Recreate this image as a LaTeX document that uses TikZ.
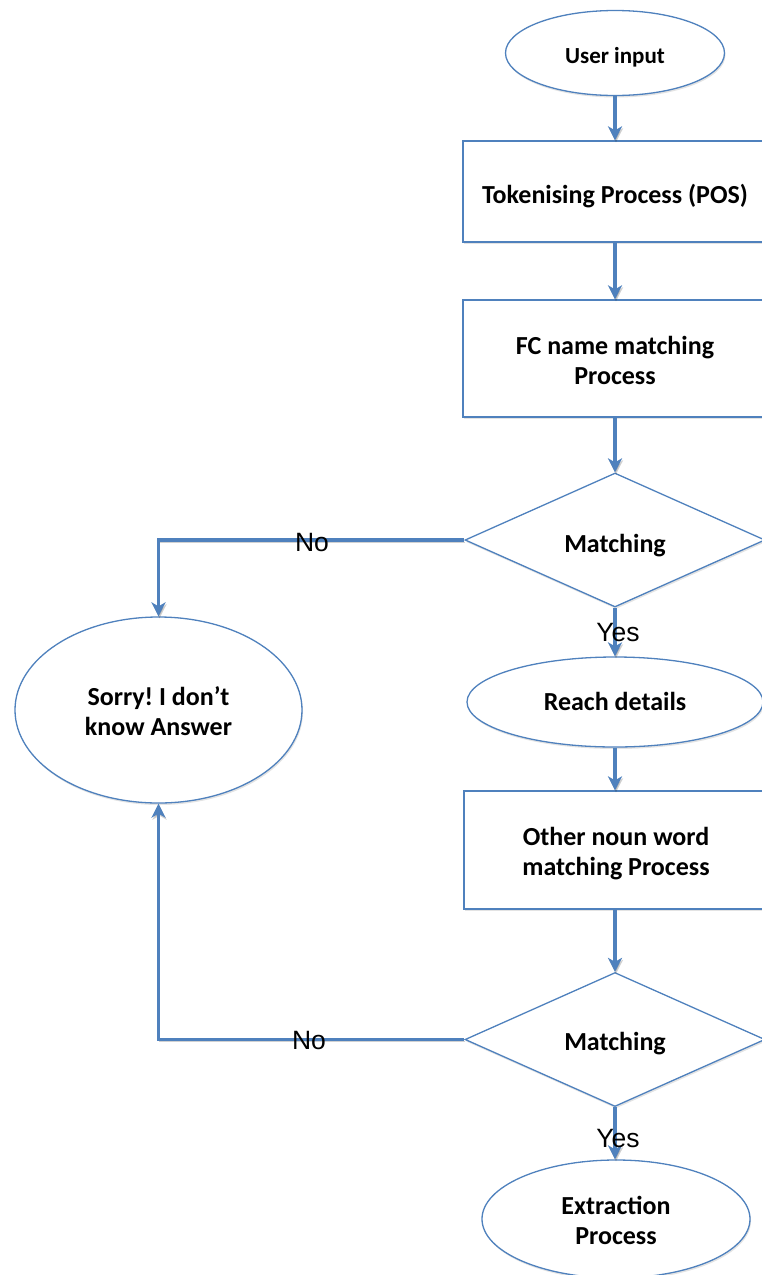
\documentclass[tikz,border=0pt]{standalone}
\usepackage{fontspec}
\setmainfont{Carlito}
\newfontfamily\labelfont{Liberation Sans}
\usetikzlibrary{shapes.geometric,arrows.meta,shadows}
\definecolor{flowblue}{RGB}{79,129,189}
\frenchspacing
% one line of text, baseline set below the shape centre
\newcommand\oneline[2][11.5pt]{\raisebox{-#1}[0pt][0pt]{#2}}
% two centred lines, 30pt apart
\newcommand\twolines[2]{\raisebox{4.5pt}[0pt][0pt]{\begin{tabular}[t]{@{}c@{}}#1\\#2\end{tabular}}}
\begin{document}
\begin{tikzpicture}[x=1pt,y=-1pt,
  every node/.style={align=center, text=black, inner sep=0pt,
    font=\fontsize{26}{30}\selectfont\bfseries},
  shape base/.style={draw=flowblue, line width=1.3pt, fill=white,
    drop shadow={opacity=0.22, shadow xshift=1pt, shadow yshift=-2pt}},
  procbox/.style={shape base, rectangle, minimum width=304pt},
  terminal/.style={shape base, ellipse},
  decision/.style={shape base, diamond, minimum width=300pt, minimum height=134pt},
  conn/.style={draw=flowblue, line width=3.6pt,
    -{Stealth[length=14pt, width=14pt, inset=4pt]},
    preaction={draw=black, opacity=0.18,
      transform canvas={shift={(1pt,-2pt)}}}},
  lbl/.style={font=\fontsize{26.5}{30}\selectfont\labelfont}
]
\useasboundingbox (0,0) rectangle (762,1275);
\clip (0,0) rectangle (762,1275);

% main column
\node[terminal, minimum width=219pt, minimum height=85pt,
  font=\fontsize{23}{30}\selectfont\bfseries] (user) at (615,53) {\oneline[10.5pt]{User input}};
\node[procbox, minimum height=101pt] (tok) at (615,191.5) {\oneline{Tokenising Process (POS)}};
\node[procbox, minimum height=117pt] (fc) at (615,358.5) {\twolines{FC name matching}{Process}};
\node[decision] (d1) at (615,540) {\oneline[12pt]{Matching}};
\node[terminal, minimum width=296pt, minimum height=90pt] (reach) at (615,702) {\oneline[8pt]{Reach details}};
\node[procbox, minimum height=118pt] (noun) at (616,850) {\twolines{Other noun word}{matching Process}};
\node[decision] (d2) at (615,1039.5) {\oneline[10.5pt]{Matching}};
\node[terminal, minimum width=268pt, minimum height=118pt] (extract) at (616,1219) {\twolines{Extraction}{Process}};

% failure outcome
\node[terminal, minimum width=287pt, minimum height=186pt] (sorry) at (158.5,710) {\twolines{Sorry! I don’t}{know Answer}};

% connectors
\draw[conn] (user.south) -- (tok.north);
\draw[conn] (tok.south) -- (fc.north);
\draw[conn] (fc.south) -- (d1.north);
\draw[conn] (d1.south) -- (reach.north);
\draw[conn] (reach.south) -- (reach.south |- noun.north);
\draw[conn] (noun.south -| d2.north) -- (d2.north);
\draw[conn] (d2.south) -- (d2.south |- extract.north);
\draw[conn] (d1.west) -| (sorry.north);
\draw[conn] (d2.west) -| (sorry.south);

% branch labels
\node[lbl] (no1) at (312,543) {No};
\node[lbl] (no2) at (309,1041) {No};
\node[lbl] (yes1) at (618,633) {Yes};
\node[lbl] (yes2) at (618,1138) {Yes};
\end{tikzpicture}
\end{document}
